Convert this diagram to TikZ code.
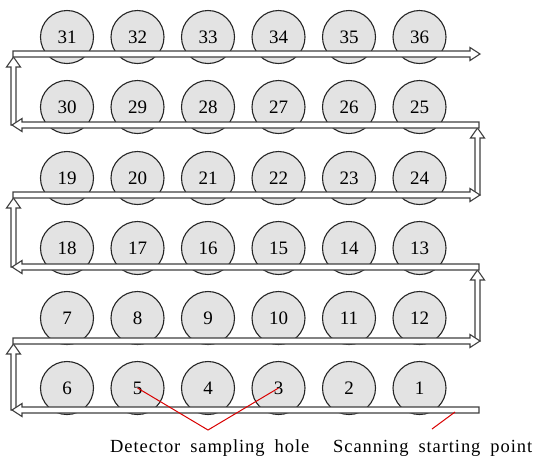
\documentclass[tikz,border=0pt]{standalone}
\usepackage{fontspec}
\setmainfont{Liberation Serif}
\newfontfamily\capfont[LetterSpace=5,WordSpace=1.8]{Liberation Serif}
\begin{document}
\begin{tikzpicture}[x=1pt,y=-1pt,
  hole/.style={circle,draw=black!85,fill=gray!22,line width=1.1pt,minimum size=53pt,inner sep=0pt,font=\fontsize{19}{20}\selectfont},
  band/.style={draw=black!75,fill=white,line width=1.1pt,line join=miter},
  pointer/.style={draw=red!85!black,line width=1pt},
  caption/.style={font=\capfont\fontsize{18.5}{20}\selectfont,anchor=base west,inner sep=0pt}]
\useasboundingbox[fill=white] (0,0) rectangle (534,456);
% holes
\foreach \n [count=\i from 0] in {31,32,33,34,35,36} \node[hole] (c\n) at ({67+70.5*\i},37) {\n};
\foreach \n [count=\i from 0] in {30,29,28,27,26,25} \node[hole] (c\n) at ({67+70.5*\i},107) {\n};
\foreach \n [count=\i from 0] in {19,20,21,22,23,24} \node[hole] (c\n) at ({67+70.5*\i},178) {\n};
\foreach \n [count=\i from 0] in {18,17,16,15,14,13} \node[hole] (c\n) at ({67+70.5*\i},248) {\n};
\foreach \n [count=\i from 0] in {7,8,9,10,11,12} \node[hole] (c\n) at ({67+70.5*\i},318) {\n};
\foreach \n [count=\i from 0] in {6,5,4,3,2,1} \node[hole] (c\n) at ({67+70.5*\i},388) {\n};
% vertical connectors (left)
\foreach \yl/\yu in {410/341,267/195,125/54}
  \draw[band] (11,\yl) -- (11,\yu+13) -- (6.5,\yu+13) -- (13.5,\yu+3) -- (20.5,\yu+13) -- (16,\yu+13) -- (16,\yl) -- cycle;
% vertical connectors (right)
\foreach \yl/\yu in {341/267,195/125}
  \draw[band] (475,\yl) -- (475,\yu+13) -- (470.5,\yu+13) -- (477.5,\yu+3) -- (484.5,\yu+13) -- (480,\yu+13) -- (480,\yl) -- cycle;
% rightward bands
\foreach \y in {54,195,341}
  \draw[band] (13,\y-3) -- (470,\y-3) -- (470,\y-6.5) -- (480,\y) -- (470,\y+6.5) -- (470,\y+3) -- (13,\y+3) -- cycle;
% leftward bands
\foreach \y in {125,267}
  \draw[band] (479,\y-3) -- (22,\y-3) -- (22,\y-6.5) -- (12,\y) -- (22,\y+6.5) -- (22,\y+3) -- (479,\y+3) -- cycle;
\draw[band] (479,407) -- (22,407) -- (22,403.5) -- (12,410) -- (22,416.5) -- (22,413) -- (479,413) -- cycle;
% labels
\node[caption] (lab1) at (110,452) {Detector sampling hole};
\node[caption] (lab2) at (333,452) {Scanning starting point};
\coordinate (v1) at (208,430);
\coordinate (sp) at (455,412);
\coordinate (sp2) at (432,429);
\draw[pointer] (c5.center) -- (v1) -- (c3.center);
\draw[pointer] (sp) -- (sp2);
\end{tikzpicture}
\end{document}
